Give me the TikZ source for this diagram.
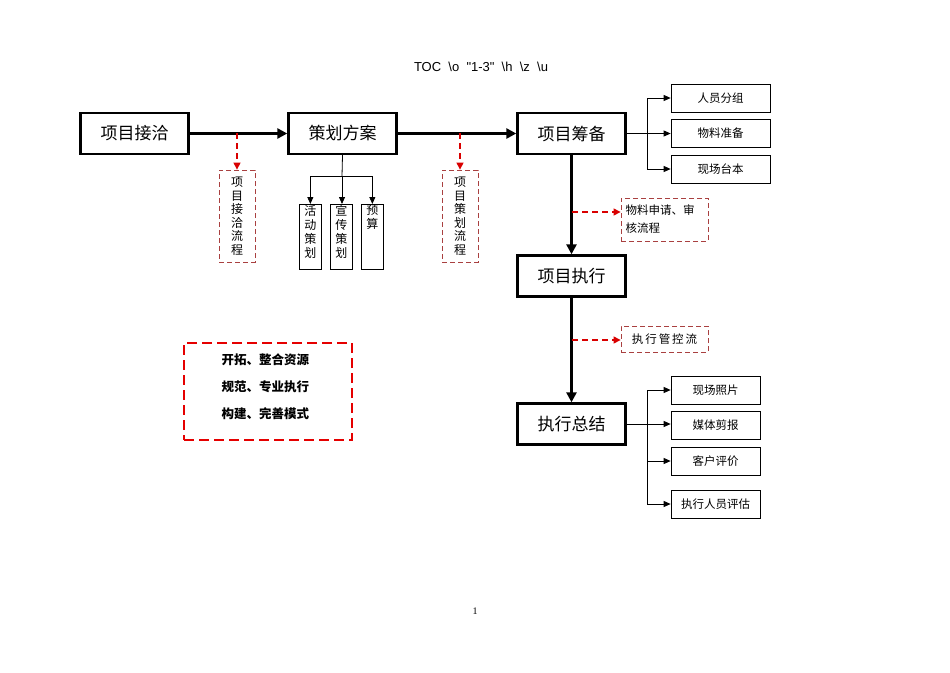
\documentclass[tikz,border=0pt]{standalone}
\usepackage{fontspec}
\setmainfont{Liberation Serif}
\newfontfamily\cjk{Noto Sans CJK SC}
\newfontfamily\lsans{Liberation Sans}
\usetikzlibrary{arrows.meta}
\begin{document}
\begin{tikzpicture}[x=1pt,y=-1pt,
 main/.style={draw,line width=2.4pt,minimum width=108pt,minimum height=41pt,font=\cjk\fontsize{17}{17}\selectfont},
 sub/.style={draw,line width=0.7pt,minimum height=28pt,font=\cjk\fontsize{11.5}{11.5}\selectfont},
 vbox/.style={draw,line width=0.7pt,minimum width=22pt,minimum height=65pt,anchor=north west,inner sep=0pt},
 vtxt/.style={anchor=north,font=\cjk\fontsize{12}{14}\selectfont,align=center,inner sep=1pt},
 rdash/.style={draw=red!55!black!75,dash pattern=on 5pt off 3pt,line width=0.8pt},
 thick arr/.style={line width=2.6pt,-{Triangle[length=10pt,width=10pt]}},
 thin arr/.style={line width=0.8pt,-{Triangle[length=7pt,width=6pt]}},
 red arr/.style={red!85!black,dash pattern=on 6pt off 4pt,line width=1.1pt,-{Triangle[length=7pt,width=7pt]}}]
\useasboundingbox (0,0) rectangle (950,672);
\node[font=\lsans\fontsize{13}{13}\selectfont] (title) at (481,67) {TOC\ \ \textbackslash o\ \ "1-3"\ \ \textbackslash h\ \ \textbackslash z\ \ \textbackslash u};
\node[font=\fontsize{10}{10}\selectfont] (pg) at (475,611) {1};
\node[main] (a) at (134.5,133.5) {项目接洽};
\node[main] (b) at (342.5,133.5) {策划方案};
\node[main] (c) at (571.5,133.5) {项目筹备};
\node[main] (d) at (571.5,276) {项目执行};
\node[main] (e) at (571.5,424) {执行总结};
\draw[thick arr] (a) -- (b);
\draw[thick arr] (b) -- (c);
\draw[thick arr] (c) -- (d);
\draw[thick arr] (d) -- (e);
% dashed process boxes
\node[rdash,minimum width=36pt,minimum height=92pt,font=\cjk\fontsize{12}{13.5}\selectfont,align=center] (p1) at (237,216) {项\\目\\接\\洽\\流\\程};
\node[rdash,minimum width=36pt,minimum height=92pt,font=\cjk\fontsize{12}{13.5}\selectfont,align=center] (p2) at (460,216) {项\\目\\策\\划\\流\\程};
\coordinate (q1) at (237,133);
\coordinate (q2) at (460,133);
\draw[red arr] (q1) -- (p1.north);
\draw[red arr] (q2) -- (p2.north);
% sub vertical boxes
\node[vbox] (s1) at (299,204) {};
\node[vbox] (s2) at (330,204) {};
\node[vbox] (s3) at (361,204) {};
\node[vtxt] at (s1.north) {活\\动\\策\\划};
\node[vtxt] at (s2.north) {宣\\传\\策\\划};
\node[vtxt] at (s3.north) {预\\算};
\coordinate (bj) at (342,176);
\draw[line width=0.8pt] (b.south) -- (bj);
\draw[thin arr] (bj) -| (s1.north);
\draw[thin arr] (bj) -- (s2.north -| bj);
\draw[thin arr] (bj) -| (s3.north);
% right boxes top
\node[sub,minimum width=99pt] (r1) at (720.5,98) {人员分组};
\node[sub,minimum width=99pt] (r2) at (720.5,133.5) {物料准备};
\node[sub,minimum width=99pt] (r3) at (720.5,169) {现场台本};
\coordinate (cj) at (647,133.5);
\draw[line width=0.8pt] (c.east) -- (cj);
\draw[thin arr] (cj) |- (r1.west);
\draw[thin arr] (cj) -- (r2.west);
\draw[thin arr] (cj) |- (r3.west);
% dashed side notes
\node[rdash,minimum width=87pt,minimum height=43pt,font=\cjk\fontsize{11.5}{18}\selectfont,align=left,text width=78pt,inner sep=4.5pt] (n1) at (664.5,219.5) {物料申请、审\\核流程};
\node[rdash,minimum width=87pt,minimum height=26pt,font=\cjk\fontsize{11.5}{11.5}\selectfont] (n2) at (664.5,339) {执\,行\,管\,控\,流};
\coordinate (m1) at (572,212);
\coordinate (m2) at (572,340);
\draw[red arr] (m1) -- (m1 -| n1.west);
\draw[red arr] (m2) -- (m2 -| n2.west);
% bottom right
\node[sub,minimum width=89pt] (t1) at (715.5,390) {现场照片};
\node[sub,minimum width=89pt] (t2) at (715.5,425.5) {媒体剪报};
\node[sub,minimum width=89pt] (t3) at (715.5,461) {客户评价};
\node[sub,minimum width=89pt] (t4) at (715.5,504) {执行人员评估};
\coordinate (ej) at (647,424);
\draw[line width=0.8pt] (e.east) -- (ej);
\draw[thin arr] (ej) |- (t1.west);
\draw[thin arr] (ej) -- (t2.west |- ej);
\draw[thin arr] (ej) |- (t3.west);
\draw[thin arr] (ej) |- (t4.west);
% red slogan box
\node[draw=red!90!black,dash pattern=on 10pt off 5pt,line width=2.4pt,minimum width=168pt,minimum height=97pt] (sl) at (268,391.5) {};
\node[anchor=west,font=\cjk\bfseries\fontsize{12.5}{27}\selectfont,align=left] (slt) at (218,387) {开拓、整合资源\\规范、专业执行\\构建、完善模式};
\end{tikzpicture}
\end{document}
